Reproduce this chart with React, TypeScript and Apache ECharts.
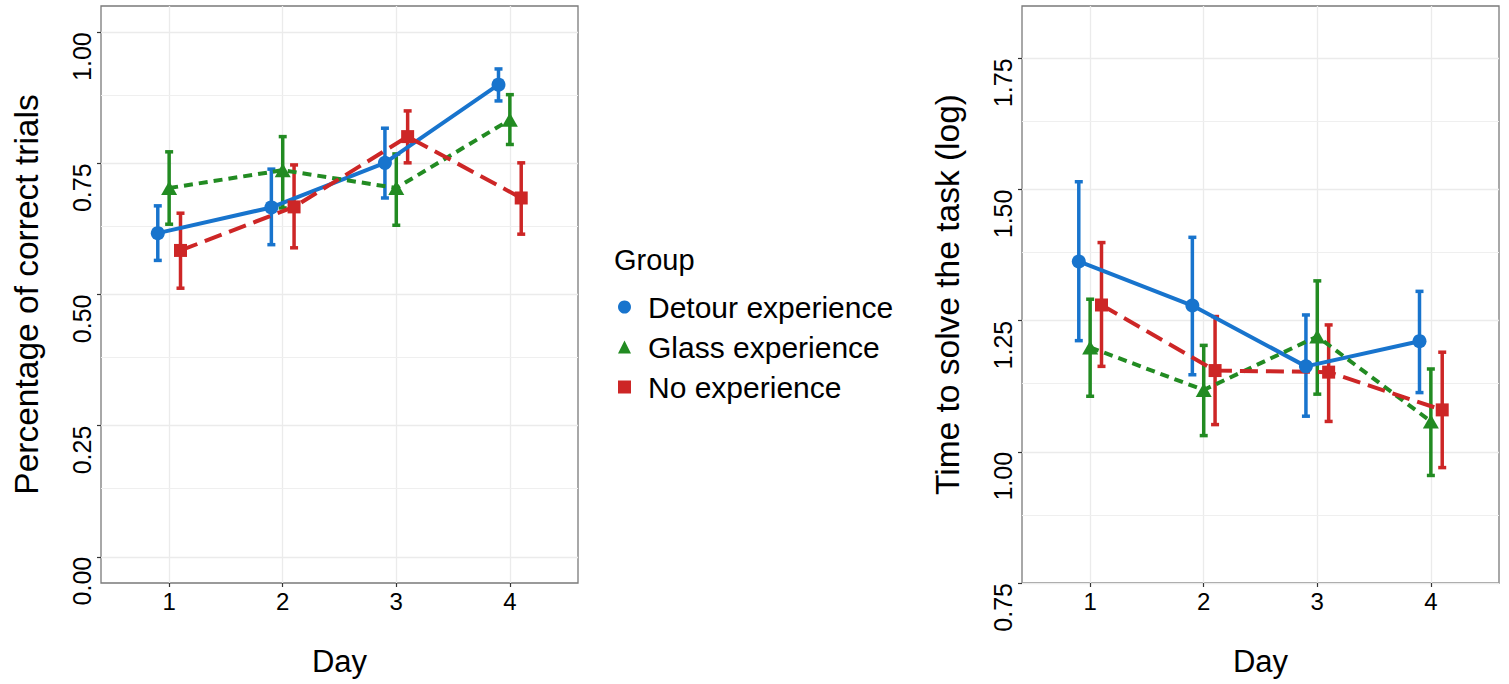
import React, { useEffect, useRef } from 'react';
import * as echarts from 'echarts';

// ---------- data ----------
const days = [1, 2, 3, 4];
const groups = ['Detour experience', 'Glass experience', 'No experience'];

// Left panel: proportion of correct trials (mean, lower CI, upper CI)
const detourCorrect = [0.617, 0.666, 0.751, 0.900];
const detourCorrectLo = [0.565, 0.595, 0.684, 0.869];
const detourCorrectHi = [0.669, 0.739, 0.817, 0.930];
const glassCorrect = [0.703, 0.737, 0.703, 0.833];
const glassCorrectLo = [0.634, 0.665, 0.632, 0.786];
const glassCorrectHi = [0.772, 0.801, 0.768, 0.881];
const noCorrect = [0.584, 0.667, 0.801, 0.684];
const noCorrectLo = [0.512, 0.589, 0.751, 0.615];
const noCorrectHi = [0.655, 0.747, 0.850, 0.751];

// Right panel: time to solve the task (log)
const detourTime = [1.363, 1.279, 1.163, 1.211];
const detourTimeLo = [1.212, 1.147, 1.068, 1.113];
const detourTimeHi = [1.515, 1.409, 1.261, 1.306];
const glassTime = [1.199, 1.118, 1.220, 1.058];
const glassTimeLo = [1.106, 1.031, 1.110, 0.955];
const glassTimeHi = [1.291, 1.203, 1.326, 1.158];
const noTime = [1.280, 1.155, 1.152, 1.080];
const noTimeLo = [1.163, 1.052, 1.058, 0.970];
const noTimeHi = [1.399, 1.258, 1.242, 1.190];

// Axis ticks
const correctTicks = [0, 0.25, 0.5, 0.75, 1];
const correctMinor = [0.125, 0.375, 0.625, 0.875];
const timeTicks = [0.75, 1, 1.25, 1.5, 1.75];
const timeMinor = [0.875, 1.125, 1.375, 1.625];

// ---------- styles ----------
const FONT = '"Liberation Sans", Arial, Helvetica, sans-serif';
const COLORS = ['#1874CD', '#228B22', '#CD2626'];
const SYMBOLS = ['circle', 'triangle', 'rect'];
const SYMBOL_SIZES: any[] = [14, [16, 14], 13];
const DASHES: any[] = ['solid', [9, 6], [18, 8]];
const DODGE = [-0.1, 0, 0.1];

const panels = [
  {
    means: [detourCorrect, glassCorrect, noCorrect],
    lows: [detourCorrectLo, glassCorrectLo, noCorrectLo],
    highs: [detourCorrectHi, glassCorrectHi, noCorrectHi],
    ticks: correctTicks,
    minor: correctMinor,
    min: -0.05,
    max: 1.05,
    yName: 'Percentage of correct trials',
    left: 101,
  },
  {
    means: [detourTime, glassTime, noTime],
    lows: [detourTimeLo, glassTimeLo, noTimeLo],
    highs: [detourTimeHi, glassTimeHi, noTimeHi],
    ticks: timeTicks,
    minor: timeMinor,
    min: 0.75,
    max: 1.85,
    yName: 'Time to solve the task (log)',
    left: 1022,
  },
];

function buildOption() {
  const grid: any[] = [];
  const xAxis: any[] = [];
  const yAxis: any[] = [];
  const series: any[] = [];

  panels.forEach((p, pi) => {
    grid.push({
      left: p.left,
      top: 6,
      width: 477,
      height: 577,
      show: true,
      borderColor: '#7a7a7a',
      borderWidth: 1.3,
      backgroundColor: '#ffffff',
      outerBoundsMode: 'none',
      containLabel: false,
    });
    xAxis.push({
      type: 'value',
      gridIndex: pi,
      min: 0.4,
      max: 4.6,
      position: 'bottom',
      name: 'Day',
      nameLocation: 'middle',
      nameGap: 63,
      nameTextStyle: { fontSize: 31, color: '#000', fontFamily: FONT },
      axisLine: { show: false, onZero: false },
      axisTick: {
        show: true,
        customValues: days,
        length: 4,
        lineStyle: { color: '#333', width: 1.2 },
      },
      axisLabel: {
        show: true,
        customValues: days,
        margin: 6,
        fontSize: 24,
        color: '#000',
        fontFamily: FONT,
        formatter: (v: number) => String(v),
      },
      splitLine: { show: false },
    });
    yAxis.push({
      type: 'value',
      gridIndex: pi,
      min: p.min,
      max: p.max,
      position: 'left',
      name: p.yName,
      nameLocation: 'middle',
      nameRotate: 90,
      nameGap: 58,
      nameTextStyle: { fontSize: 33.5, color: '#000', fontFamily: FONT },
      axisLine: { show: false, onZero: false },
      axisTick: {
        show: true,
        customValues: p.ticks,
        length: 4,
        lineStyle: { color: '#333', width: 1.2 },
      },
      axisLabel: {
        show: true,
        customValues: p.ticks,
        rotate: 90,
        align: 'right',
        margin: 7,
        fontSize: 25,
        color: '#000',
        fontFamily: FONT,
        formatter: (v: number) => v.toFixed(2),
      },
      splitLine: { show: false },
    });

    // gridlines via markLine on a dummy series
    const gridData: any[] = [];
    days.forEach((d) =>
      gridData.push({ xAxis: d, lineStyle: { color: '#ebebeb', width: 1.3, type: 'solid' } })
    );
    p.ticks.forEach((t) =>
      gridData.push({ yAxis: t, lineStyle: { color: '#ebebeb', width: 1.3, type: 'solid' } })
    );
    p.minor.forEach((t) =>
      gridData.push({ yAxis: t, lineStyle: { color: '#efefef', width: 1, type: 'solid' } })
    );
    series.push({
      type: 'line',
      xAxisIndex: pi,
      yAxisIndex: pi,
      data: [],
      silent: true,
      z: 0,
      markLine: {
        z: 0,
        silent: true,
        symbol: ['none', 'none'],
        label: { show: false },
        emphasis: { disabled: true },
        animation: false,
        data: gridData,
      },
    });

    // error bars
    groups.forEach((g, gi) => {
      const color = COLORS[gi];
      series.push({
        type: 'custom',
        xAxisIndex: pi,
        yAxisIndex: pi,
        silent: true,
        z: 2,
        encode: { x: 0, y: [1, 2] },
        data: days.map((d, i) => [d + DODGE[gi], p.lows[gi][i], p.highs[gi][i]]),
        renderItem: (params: any, api: any) => {
          const x = api.value(0);
          const lo = api.coord([x, api.value(1)]);
          const hi = api.coord([x, api.value(2)]);
          const hw = 4;
          const st = { stroke: color, lineWidth: 3.5, fill: null };
          return {
            type: 'group',
            children: [
              { type: 'line', shape: { x1: lo[0], y1: lo[1], x2: hi[0], y2: hi[1] }, style: st },
              { type: 'line', shape: { x1: hi[0] - hw, y1: hi[1], x2: hi[0] + hw, y2: hi[1] }, style: st },
              { type: 'line', shape: { x1: lo[0] - hw, y1: lo[1], x2: lo[0] + hw, y2: lo[1] }, style: st },
            ],
          };
        },
      });
    });

    // lines + points
    groups.forEach((g, gi) => {
      const color = COLORS[gi];
      series.push({
        type: 'line',
        name: g,
        xAxisIndex: pi,
        yAxisIndex: pi,
        silent: true,
        z: 3,
        data: days.map((d, i) => [d + DODGE[gi], p.means[gi][i]]),
        symbol: SYMBOLS[gi],
        symbolSize: SYMBOL_SIZES[gi],
        showSymbol: true,
        showAllSymbol: true,
        lineStyle: { color, width: 4, type: DASHES[gi] },
        itemStyle: { color, borderWidth: 0 },
        emphasis: { disabled: true },
      });
    });
  });

  return {
    animation: false,
    backgroundColor: '#ffffff',
    textStyle: { fontFamily: FONT },
    title: {
      text: 'Group',
      left: 614,
      top: 245,
      padding: 0,
      textStyle: { fontSize: 29, fontWeight: 'normal', color: '#000', fontFamily: FONT },
    },
    legend: {
      left: 618,
      top: 287,
      orient: 'vertical',
      padding: 0,
      itemWidth: 13,
      itemHeight: 13,
      itemGap: 0,
      selectedMode: false,
      textStyle: {
        fontSize: 30,
        lineHeight: 40,
        color: '#000',
        fontFamily: FONT,
        padding: [0, 0, 0, 12],
      },
      data: [
        { name: groups[0], icon: 'circle' },
        { name: groups[1], icon: 'triangle' },
        { name: groups[2], icon: 'rect' },
      ],
    },
    grid,
    xAxis,
    yAxis,
    series,
  };
}

export default function App() {
  const ref = useRef<HTMLDivElement>(null);
  useEffect(() => {
    document.body.style.margin = '0';
    if (!ref.current) return;
    const chart = echarts.init(ref.current, undefined, { renderer: 'svg' });
    chart.setOption(buildOption() as any);
    return () => chart.dispose();
  }, []);
  return <div ref={ref} style={{ width: 1509, height: 684 }} />;
}
